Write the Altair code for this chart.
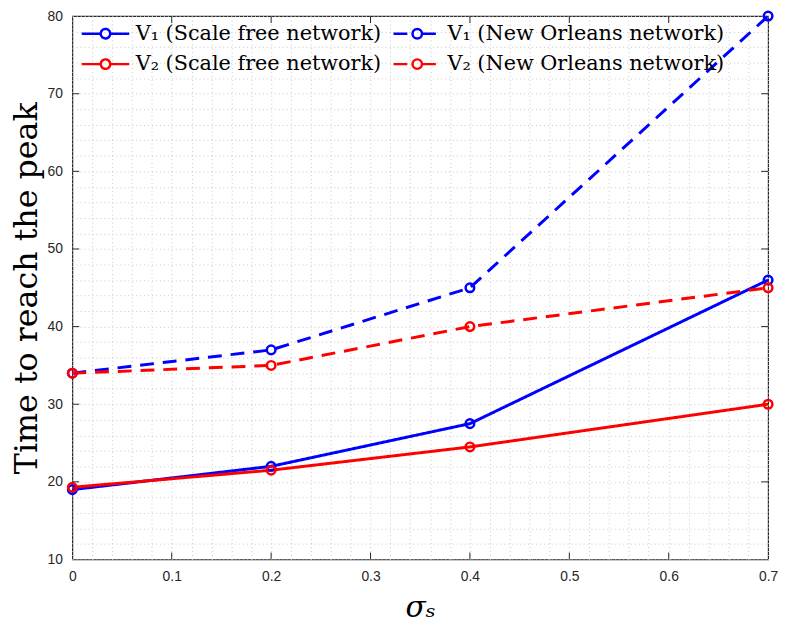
import altair as alt
import pandas as pd

sigma = [0.0, 0.2, 0.4, 0.7]
v1_sf = [19.0, 22.0, 27.5, 46.0]
v2_sf = [19.3, 21.5, 24.5, 30.0]
v1_no = [34.0, 37.0, 45.0, 80.0]
v2_no = [34.0, 35.0, 40.0, 45.0]

names = ["V\u2081 (Scale free network)", "V\u2082 (Scale free network)",
         "V\u2081 (New Orleans network)", "V\u2082 (New Orleans network)"]
series_vals = [v1_sf, v2_sf, v1_no, v2_no]

x_major = [0.0, 0.1, 0.2, 0.3, 0.4, 0.5, 0.6, 0.7]
x_minor = [round(i * 0.02, 2) for i in range(36)]
y_major = [10, 20, 30, 40, 50, 60, 70, 80]
y_minor = list(range(10, 81, 2))

rows = []
for n, vals in zip(names, series_vals):
    for s, v in zip(sigma, vals):
        rows.append({"sigma": s, "time": v, "series": n})
df = pd.DataFrame(rows)

W, H = 703, 549

xs = alt.Scale(domain=[0, 0.7], nice=False, zero=False)
ys = alt.Scale(domain=[10, 80], nice=False, zero=False)

# legend glyph: line - open circle - line (circle split in short arcs so dashing keeps it whole)
sym = ("M-2,0L-0.4,0M0.4,0L2,0"
       "M0.4,0A0.4,0.4,0,0,1,0,0.4M0,0.4A0.4,0.4,0,0,1,-0.4,0"
       "M-0.4,0A0.4,0.4,0,0,1,0,-0.4M0,-0.4A0.4,0.4,0,0,1,0.4,0")

def mk_legend():
    return alt.Legend(title=None, orient="none", legendX=20, legendY=4, columns=2,
                      direction="vertical", symbolType=sym, symbolSize=576, symbolStrokeWidth=2.5,
                      labelFont="DejaVu Serif", labelFontSize=21, labelColor="#000000", labelLimit=400,
                      columnPadding=6, rowPadding=7, labelOffset=17)

color = alt.Color("series:N", scale=alt.Scale(domain=names, range=["#0000ff", "#ff0000", "#0000ff", "#ff0000"]),
                  legend=mk_legend())
dash = alt.StrokeDash("series:N", scale=alt.Scale(domain=names, range=[[1, 0], [1, 0], [14, 9], [14, 9]]),
                      legend=mk_legend())

grid_col = "#c8c8c8"
xaxis = alt.Axis(values=x_minor, grid=True, gridDash=[1, 3], gridColor=grid_col, gridWidth=1,
                 ticks=False, domain=False, format="~g", labelOverlap=False, labelFlush=False,
                 labelExpr="abs(round(datum.value*10) - datum.value*10) < 1e-6 ? datum.label : ''",
                 labelFont="Liberation Sans", labelFontSize=14, labelColor="#262626", labelPadding=10,
                 title="\u03c3\u209b", titleFont="DejaVu Serif", titleFontStyle="italic", titleFontWeight="normal",
                 titleFontSize=30, titleColor="#000000", titlePadding=10)
yaxis = alt.Axis(values=y_minor, grid=True, gridDash=[1, 3], gridColor=grid_col, gridWidth=1,
                 ticks=False, domain=False, labelOverlap=False, labelFlush=False,
                 labelExpr="datum.value % 10 == 0 ? datum.label : ''",
                 labelFont="Liberation Sans", labelFontSize=14, labelColor="#262626", labelPadding=10,
                 title="Time to reach the peak", titleFont="DejaVu Serif", titleFontWeight="normal",
                 titleFontSize=32, titleColor="#000000", titleX=-36, titleY=H / 2,
                 titleAngle=270, titleBaseline="alphabetic", titleAlign="center")

lines = alt.Chart(df).mark_line(strokeWidth=3).encode(
    x=alt.X("sigma:Q", scale=xs, axis=xaxis),
    y=alt.Y("time:Q", scale=ys, axis=yaxis),
    color=color,
    strokeDash=dash,
    order=alt.Order("sigma:Q"),
)
points = alt.Chart(df).mark_point(filled=False, size=75, strokeWidth=2.5, opacity=1).encode(
    x=alt.X("sigma:Q", scale=xs, axis=xaxis),
    y=alt.Y("time:Q", scale=ys, axis=yaxis),
    color=color,
)

xt = pd.DataFrame({"v": x_major[1:-1]})
yt = pd.DataFrame({"v": y_major[1:-1]})
tick_col = "#262626"
xt_bot = alt.Chart(xt).mark_rule(color=tick_col, strokeWidth=1).encode(
    x=alt.X("v:Q", scale=xs, axis=xaxis), y=alt.value(H), y2=alt.value(H - 7))
xt_top = alt.Chart(xt).mark_rule(color=tick_col, strokeWidth=1).encode(
    x=alt.X("v:Q", scale=xs, axis=xaxis), y=alt.value(0), y2=alt.value(7))
yt_left = alt.Chart(yt).mark_rule(color=tick_col, strokeWidth=1).encode(
    y=alt.Y("v:Q", scale=ys, axis=yaxis), x=alt.value(0), x2=alt.value(7))
yt_right = alt.Chart(yt).mark_rule(color=tick_col, strokeWidth=1).encode(
    y=alt.Y("v:Q", scale=ys, axis=yaxis), x=alt.value(W), x2=alt.value(W - 7))

chart = alt.layer(xt_bot, xt_top, yt_left, yt_right, lines, points).properties(
    width=W, height=H,
    background="white",
    autosize=alt.AutoSizeParams(type="none"),
    padding={"left": 65, "top": 5, "right": 11, "bottom": 62},
).configure_view(stroke="#262626", strokeWidth=1.2)

chart.save("out.html", embed_options={"renderer": "svg", "actions": False})
